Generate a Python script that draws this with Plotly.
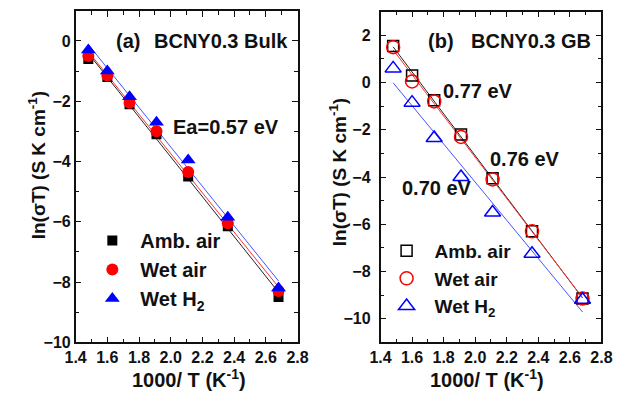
import numpy as np
import plotly.graph_objects as go

# ---- data ----
inv_T = [1.48, 1.60, 1.74, 1.91, 2.11, 2.36, 2.68]

bulk_amb = [-0.60, -1.20, -2.10, -3.10, -4.50, -6.15, -8.50]
bulk_wet_air = [-0.50, -1.15, -2.05, -3.00, -4.35, -6.05, -8.30]
bulk_wet_h2 = [-0.30, -1.00, -1.85, -2.70, -3.95, -5.85, -8.20]

gb_amb = [1.55, 0.30, -0.75, -2.20, -4.05, -6.30, -9.15]
gb_wet_air = [1.50, 0.05, -0.80, -2.30, -4.10, -6.30, -9.15]
gb_wet_h2 = [0.60, -0.85, -2.35, -4.00, -5.50, -7.25, -9.20]

series_names = ["Amb. air", "Wet air", "Wet H<sub>2</sub>"]
x_ticks = [1.4, 1.6, 1.8, 2.0, 2.2, 2.4, 2.6, 2.8]

W, H = 625, 409
FONT = "Liberation Sans, Arial, sans-serif"


def px(x):
    return x / W


def py(y):
    return 1 - y / H


def bold(t):
    return "<b>" + t + "</b>"


fig = go.Figure()

colors = ["#000000", "#ff0000", "#0000ff"]
line_colors = ["#222222", "#ff3030", "#4455ff"]
filled = ["square", "circle", "triangle-up"]
opened = ["square-open", "circle-open", "triangle-up-open"]
fsize = [10, 12, 13]
osize = [11, 13, 14]

xs = np.array(inv_T)
xline = np.array([min(inv_T), max(inv_T)])

# linear fits (Arrhenius lines) drawn beneath the markers
for i, ys in enumerate([bulk_amb, bulk_wet_air, bulk_wet_h2]):
    k, b = np.polyfit(xs, ys, 1)
    fig.add_trace(go.Scatter(x=xline, y=k * xline + b, mode="lines",
                             line=dict(color=line_colors[i], width=1),
                             showlegend=False, xaxis="x", yaxis="y", hoverinfo="skip"))
for i, ys in enumerate([gb_amb, gb_wet_air, gb_wet_h2]):
    k, b = np.polyfit(xs, ys, 1)
    fig.add_trace(go.Scatter(x=xline, y=k * xline + b, mode="lines",
                             line=dict(color=line_colors[i], width=1),
                             showlegend=False, xaxis="x2", yaxis="y2", hoverinfo="skip"))

for i, ys in enumerate([bulk_amb, bulk_wet_air, bulk_wet_h2]):
    fig.add_trace(go.Scatter(x=inv_T, y=ys, mode="markers", name=bold(series_names[i]),
                             marker=dict(symbol=filled[i], size=fsize[i], color=colors[i],
                                         line=dict(width=0)),
                             xaxis="x", yaxis="y", legend="legend"))
for i, ys in enumerate([gb_amb, gb_wet_air, gb_wet_h2]):
    fig.add_trace(go.Scatter(x=inv_T, y=ys, mode="markers", name=bold(series_names[i]),
                             marker=dict(symbol=opened[i], size=osize[i], color=colors[i],
                                         line=dict(width=1.5, color=colors[i])),
                             xaxis="x2", yaxis="y2", legend="legend2"))

axis_common = dict(
    showline=True, linecolor="#111111", linewidth=1.5, mirror="allticks",
    ticks="inside", ticklen=6, tickwidth=1, tickcolor="#111111",
    showgrid=False, zeroline=False,
    tickfont=dict(family=FONT, size=16, color="#111111", weight="bold"),
    minor=dict(ticks="inside", ticklen=4, tickwidth=1, tickcolor="#111111"),
)

fig.update_layout(
    width=W, height=H, autosize=False,
    margin=dict(l=0, r=0, t=0, b=0),
    plot_bgcolor="white", paper_bgcolor="white",
    font=dict(family=FONT, color="#111111"),
    xaxis=dict(domain=[px(67), px(297)], range=[1.4, 2.8], tickvals=x_ticks,
               ticktext=["%.1f" % v for v in x_ticks], anchor="y",
               minor_dtick=0.1, **axis_common),
    yaxis=dict(domain=[py(350), py(11)], range=[-10, 1], dtick=2, anchor="x",
               minor_dtick=1, **axis_common),
    xaxis2=dict(domain=[px(383), px(612)], range=[1.4, 2.8], tickvals=x_ticks,
                ticktext=["%.1f" % v for v in x_ticks], anchor="y2",
                minor_dtick=0.1, **axis_common),
    yaxis2=dict(domain=[py(350), py(12)], range=[-11, 3], dtick=2, anchor="x2",
                minor_dtick=1, ticklabelstandoff=5, **axis_common),
    legend=dict(x=px(76), y=py(226), xanchor="left", yanchor="top",
                bgcolor="rgba(0,0,0,0)", itemwidth=46,
                font=dict(family=FONT, size=20, color="#111111")),
    legend2=dict(x=px(381), y=py(237), xanchor="left", yanchor="top",
                 bgcolor="rgba(0,0,0,0)", itemwidth=46,
                 font=dict(family=FONT, size=19, color="#111111")),
    showlegend=True,
)

ann_font = dict(family=FONT, size=20, color="#111111")
annots = [
    ("(a)", 107, 42, "left"),
    ("BCNY0.3 Bulk", 289, 42, "right"),
    ("Ea=0.57 eV", 223, 130, "center"),
    ("(b)", 430, 42, "left"),
    ("BCNY0.3 GB", 603, 42, "right"),
    ("0.77 eV", 484, 93, "center"),
    ("0.76 eV", 533, 163, "center"),
    ("0.70 eV", 442, 192, "center"),
]
for t, x, y, xa in annots:
    fig.add_annotation(text=bold(t), x=px(x), y=py(y), xref="paper", yref="paper",
                       xanchor=xa, yanchor="middle", showarrow=False, font=ann_font)

title_font = dict(family=FONT, size=19, color="#111111")
ytitle = bold("ln(σT) (S K cm<sup>-1</sup>)")
xtitle = bold("1000/ T (K<sup>-1</sup>)")
for x, y in [(27, 169), (339, 176)]:
    fig.add_annotation(text=ytitle, x=px(x), y=py(y), xref="paper", yref="paper",
                       textangle=-90, xanchor="center", yanchor="middle",
                       showarrow=False, font=title_font)
for x, y in [(184, 387), (493, 387)]:
    fig.add_annotation(text=xtitle, x=px(x), y=py(y), xref="paper", yref="paper",
                       xanchor="center", yanchor="middle", showarrow=False,
                       font=dict(family=FONT, size=20, color="#111111"))

fig.write_html("out.html",
               config={"displayModeBar": False},
               post_script="document.body.style.margin='0px';")
